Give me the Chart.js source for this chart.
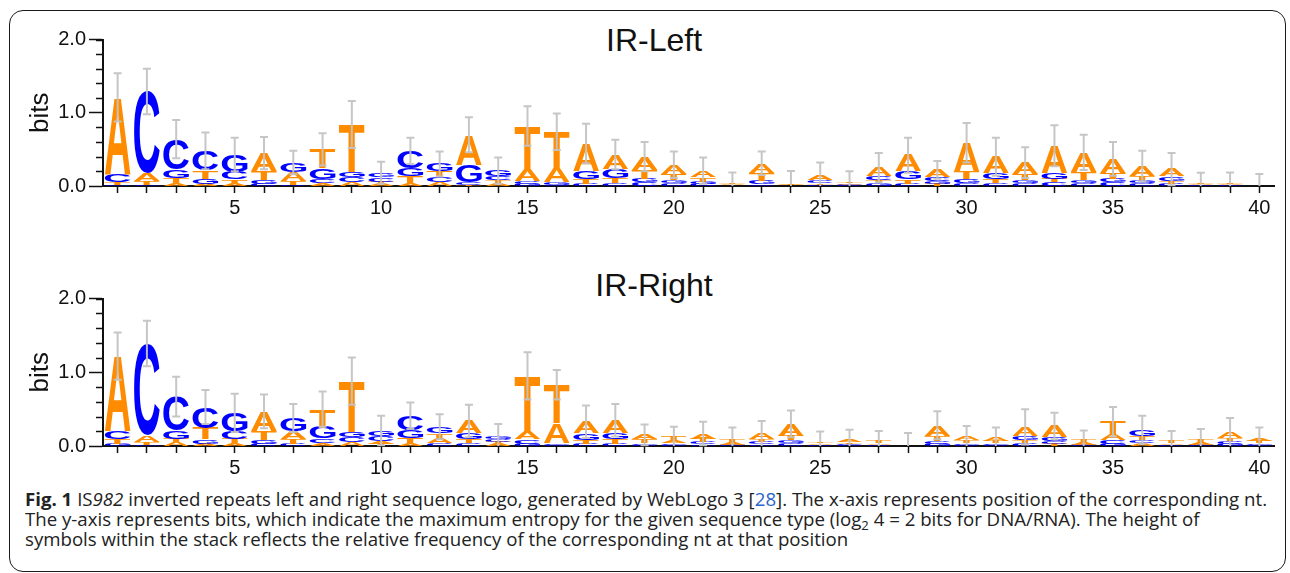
<!DOCTYPE html>
<html>
<head>
<meta charset="utf-8">
<script src="https://cdn.jsdelivr.net/npm/chart.js@4.4.1/dist/chart.umd.min.js"></script>
<style>
  html, body { margin: 0; padding: 0; background: #fff; }
  body { width: 1290px; height: 573px; position: relative; overflow: hidden; }
  .frame {
    position: absolute; left: 9px; top: 10px; width: 1277px; height: 562px;
    border: 1.6px solid #1a1a1a; border-radius: 14px; box-sizing: border-box;
  }
  .plot { position: absolute; left: 0; width: 1290px; height: 222px; }
  .logo-title {
    position: absolute; width: 400px; text-align: center;
    font: 32px "Liberation Sans", Arial, sans-serif; line-height: 32px; color: #111;
  }
  .caption {
    position: absolute; left: 25px; top: 489px;
    font-family: "Open Sans", sans-serif; font-size: 18px; line-height: 20px; color: #222;
    white-space: nowrap;
  }
  .caption div { display: block; height: 20px; }
  .caption .line { display: inline-block; transform-origin: 0 0; }
  .caption b { font-weight: 700; }
  .caption .ref { color: #2a64c8; }
  .caption sub { font-size: 70%; line-height: 0; vertical-align: -0.3em; }
</style>
</head>
<body>
<div class="frame"></div>

<div class="logo-title" style="left:454px; top:24px;">IR-Left</div>
<div class="plot" style="top:0px;"><canvas id="leftLogo"></canvas></div>

<div class="logo-title" style="left:454px; top:269px;">IR-Right</div>
<div class="plot" style="top:259px; height:223px;"><canvas id="rightLogo"></canvas></div>

<div class="caption" id="caption">
  <div><span class="line"><b>Fig. 1</b> IS<i>982</i> inverted repeats left and right sequence logo, generated by WebLogo 3 [<span class="ref">28</span>]. The x-axis represents position of the corresponding nt.</span></div>
  <div><span class="line">The y-axis represents bits, which indicate the maximum entropy for the given sequence type (log<sub>2</sub> 4 = 2 bits for DNA/RNA). The height of</span></div>
  <div><span class="line">symbols within the stack reflects the relative frequency of the corresponding nt at that position</span></div>
</div>

<script>
// positions along the sequence
const positions = Array.from({ length: 40 }, (_, i) => i + 1)

// IR-Left: letter heights in bits per position
const leftA = [1.05, 0.10, 0.04, 0.03, 0.03, 0.25, 0.12, 0.04, 0.05, 0.03,
               0.03, 0.05, 0.41, 0.04, 0.15, 0.20, 0.37, 0.20, 0.18, 0.13,
               0.09, 0.015, 0.13, 0.01, 0.07, 0.02, 0.12, 0.22, 0.10, 0.40,
               0.22, 0.16, 0.37, 0.27, 0.19, 0.14, 0.10, 0.015, 0.015, 0.005]
const leftC = [0.10, 1.12, 0.42, 0.27, 0.10, 0.03, 0.02, 0.06, 0.07, 0.06,
               0.24, 0.07, 0.03, 0.05, 0.04, 0.02, 0.03, 0.04, 0.05, 0.04,
               0.03, 0.005, 0.02, 0.005, 0.04, 0.01, 0.05, 0.03, 0.05, 0.04,
               0.04, 0.04, 0.05, 0.04, 0.05, 0.04, 0.03, 0.01, 0.01, 0.003]
const leftG = [0.02, 0.02, 0.11, 0.07, 0.24, 0.05, 0.13, 0.14, 0.07, 0.06,
               0.11, 0.10, 0.24, 0.08, 0.03, 0.03, 0.11, 0.12, 0.05, 0.04,
               0.03, 0.005, 0.05, 0.005, 0.02, 0.01, 0.04, 0.11, 0.04, 0.05,
               0.08, 0.04, 0.08, 0.04, 0.05, 0.04, 0.06, 0.005, 0.005, 0.002]
const leftT = [0.04, 0.05, 0.07, 0.11, 0.06, 0.12, 0.05, 0.26, 0.65, 0.03,
               0.10, 0.08, 0.02, 0.04, 0.60, 0.49, 0.07, 0.07, 0.12, 0.08,
               0.06, 0.02, 0.11, 0.015, 0.02, 0.02, 0.04, 0.06, 0.03, 0.10,
               0.06, 0.08, 0.05, 0.11, 0.08, 0.05, 0.04, 0.015, 0.015, 0.003]
const leftErr = [0.33, 0.31, 0.26, 0.25, 0.23, 0.22, 0.16, 0.22, 0.32, 0.15,
                 0.18, 0.17, 0.24, 0.18, 0.27, 0.25, 0.27, 0.20, 0.20, 0.18,
                 0.18, 0.14, 0.16, 0.17, 0.17, 0.14, 0.20, 0.24, 0.12, 0.27,
                 0.26, 0.21, 0.28, 0.24, 0.23, 0.21, 0.22, 0.135, 0.14, 0.15]

// IR-Right: letter heights in bits per position
const rightA = [1.02, 0.09, 0.05, 0.03, 0.04, 0.26, 0.11, 0.04, 0.05, 0.04,
                0.03, 0.06, 0.17, 0.03, 0.10, 0.27, 0.16, 0.18, 0.06, 0.04,
                0.07, 0.04, 0.08, 0.16, 0.02, 0.04, 0.02, 0.002, 0.14, 0.05,
                0.05, 0.13, 0.15, 0.03, 0.08, 0.04, 0.02, 0.03, 0.08, 0.04]
const rightC = [0.10, 1.24, 0.46, 0.29, 0.10, 0.03, 0.03, 0.06, 0.07, 0.07,
                0.20, 0.04, 0.04, 0.04, 0.06, 0.02, 0.03, 0.03, 0.02, 0.02,
                0.03, 0.01, 0.03, 0.04, 0.01, 0.02, 0.01, 0.001, 0.04, 0.02,
                0.02, 0.04, 0.04, 0.01, 0.05, 0.04, 0.01, 0.01, 0.04, 0.02]
const rightG = [0.03, 0.02, 0.11, 0.06, 0.25, 0.05, 0.18, 0.15, 0.07, 0.07,
                0.10, 0.09, 0.08, 0.04, 0.03, 0.02, 0.09, 0.08, 0.02, 0.02,
                0.02, 0.01, 0.02, 0.04, 0.005, 0.01, 0.005, 0.001, 0.03, 0.02,
                0.02, 0.05, 0.05, 0.01, 0.03, 0.09, 0.005, 0.01, 0.03, 0.02]
const rightT = [0.07, 0.04, 0.05, 0.15, 0.06, 0.13, 0.06, 0.25, 0.69, 0.03,
                0.08, 0.07, 0.05, 0.03, 0.76, 0.52, 0.05, 0.06, 0.05, 0.05,
                0.05, 0.04, 0.04, 0.06, 0.02, 0.02, 0.03, 0.002, 0.07, 0.04,
                0.03, 0.04, 0.03, 0.04, 0.17, 0.05, 0.03, 0.03, 0.04, 0.03]
const rightErr = [0.32, 0.31, 0.27, 0.23, 0.26, 0.23, 0.19, 0.24, 0.32, 0.20,
                  0.18, 0.17, 0.22, 0.16, 0.32, 0.20, 0.22, 0.22, 0.14, 0.13,
                  0.16, 0.15, 0.17, 0.18, 0.14, 0.13, 0.14, 0.17, 0.19, 0.14,
                  0.13, 0.24, 0.18, 0.12, 0.20, 0.19, 0.14, 0.15, 0.19, 0.14]

const yTicks = [0, 1, 2]

const ORANGE = '#ff8c00'
const BLUE = '#0000ff'
const letterColors = { A: ORANGE, C: BLUE, G: BLUE, T: ORANGE }

// stretch one glyph so its ink box fills the given rectangle
function drawGlyph(ctx, ch, color, x0, x1, yTop, yBottom) {
  const h = yBottom - yTop
  if (h < 0.15) return
  ctx.save()
  ctx.font = 'bold 100px "Liberation Sans", Arial, sans-serif'
  ctx.textAlign = 'left'
  ctx.textBaseline = 'alphabetic'
  const m = ctx.measureText(ch)
  const gw = m.actualBoundingBoxLeft + m.actualBoundingBoxRight
  const gh = m.actualBoundingBoxAscent + m.actualBoundingBoxDescent
  ctx.translate(x0, yTop)
  ctx.scale((x1 - x0) / gw, h / gh)
  ctx.fillStyle = color
  ctx.fillText(ch, m.actualBoundingBoxLeft, m.actualBoundingBoxAscent)
  ctx.restore()
}

const logoPlugin = {
  id: 'logo',
  afterDatasetsDraw(chart, args, opts) {
    const { ctx, scales: { x, y } } = chart
    const sets = chart.data.datasets
    const unit = Math.abs(x.getPixelForValue(1) - x.getPixelForValue(0))
    const half = unit * 0.44

    chart.data.labels.forEach((_, i) => {
      const cx = x.getPixelForValue(i)
      // smallest letter at the bottom, largest on top
      const stack = sets.map(d => ({ ch: d.label, h: d.data[i] }))
        .sort((a, b) => a.h - b.h)
      let base = 0
      stack.forEach(s => {
        drawGlyph(ctx, s.ch, letterColors[s.ch], cx - half, cx + half,
          y.getPixelForValue(base + s.h), y.getPixelForValue(base))
        base += s.h
      })

      // error bar around the stack top
      const e = opts.err[i]
      const yHi = y.getPixelForValue(base + e)
      const yLo = y.getPixelForValue(Math.max(0, base - e))
      ctx.save()
      ctx.strokeStyle = 'rgba(195,195,195,0.95)'
      ctx.lineWidth = 2
      ctx.beginPath()
      ctx.moveTo(cx, yLo); ctx.lineTo(cx, yHi)
      ctx.moveTo(cx - 4, yHi); ctx.lineTo(cx + 4, yHi)
      if (base - e > 0) { ctx.moveTo(cx - 4, yLo); ctx.lineTo(cx + 4, yLo) }
      ctx.stroke()
      ctx.restore()
    })
  },
  afterDraw(chart) {
    // minor ticks on the bits axis
    const { ctx, scales: { y } } = chart
    ctx.save()
    ctx.strokeStyle = '#111'
    ctx.lineWidth = 1.5
    ctx.beginPath()
    for (let v = 0.2; v < 2; v += 0.2) {
      if (Math.abs(v - 1) < 1e-6) continue
      const py = Math.round(y.getPixelForValue(v)) + 0.5
      ctx.moveTo(y.right - 7, py); ctx.lineTo(y.right, py)
    }
    ctx.stroke()
    ctx.restore()
  }
}

function makeLogo(canvasId, aVals, cVals, gVals, tVals, errVals) {
  const ctx = document.getElementById(canvasId).getContext('2d')
  return new Chart(ctx, {
    type: 'bar',
    data: {
      labels: positions,
      datasets: [
        { label: 'A', data: aVals, backgroundColor: 'transparent' },
        { label: 'C', data: cVals, backgroundColor: 'transparent' },
        { label: 'G', data: gVals, backgroundColor: 'transparent' },
        { label: 'T', data: tVals, backgroundColor: 'transparent' }
      ]
    },
    options: {
      responsive: true,
      maintainAspectRatio: false,
      animation: false,
      events: [],
      layout: { padding: { left: 0, right: 16, top: 39.5, bottom: 0 } },
      plugins: {
        legend: { display: false },
        tooltip: { enabled: false },
        logo: { err: errVals }
      },
      scales: {
        x: {
          stacked: true,
          afterFit: s => { s.height = 36 },
          border: { display: true, color: '#111', width: 2 },
          grid: { display: true, offset: false, drawOnChartArea: false, tickLength: 7, tickColor: '#111', tickWidth: 1.5 },
          ticks: {
            autoSkip: false, maxRotation: 0, padding: 3, color: '#111',
            font: { family: '"Liberation Sans", Arial, sans-serif', size: 20 },
            callback: (v, i) => (positions[i] % 5 === 0 ? String(positions[i]) : '')
          }
        },
        y: {
          stacked: true,
          min: 0,
          max: 2,
          afterFit: s => { s.width = 103 },
          afterBuildTicks: s => { s.ticks = yTicks.map(v => ({ value: v })) },
          border: { display: true, color: '#111', width: 2 },
          grid: { drawOnChartArea: false, tickLength: 14, tickColor: '#111', tickWidth: 1.5 },
          ticks: {
            padding: 3, color: '#111',
            font: { family: '"Liberation Sans", Arial, sans-serif', size: 20 },
            callback: v => Number(v).toFixed(1)
          },
          title: {
            display: true, text: 'bits', color: '#111',
            font: { family: '"Liberation Sans", Arial, sans-serif', size: 26 },
            padding: { top: 25, bottom: 0 }
          }
        }
      }
    },
    plugins: [logoPlugin]
  })
}

makeLogo('leftLogo', leftA, leftC, leftG, leftT, leftErr)
makeLogo('rightLogo', rightA, rightC, rightG, rightT, rightErr)

// squeeze the caption lines horizontally to the printed (condensed) width
const lines = document.querySelectorAll('#caption .line')
const w1 = lines[0].getBoundingClientRect().width
if (w1 > 0) {
  const k = 1242 / w1
  lines.forEach(l => { l.style.transform = 'scaleX(' + k.toFixed(4) + ')' })
}
</script>
</body>
</html>
